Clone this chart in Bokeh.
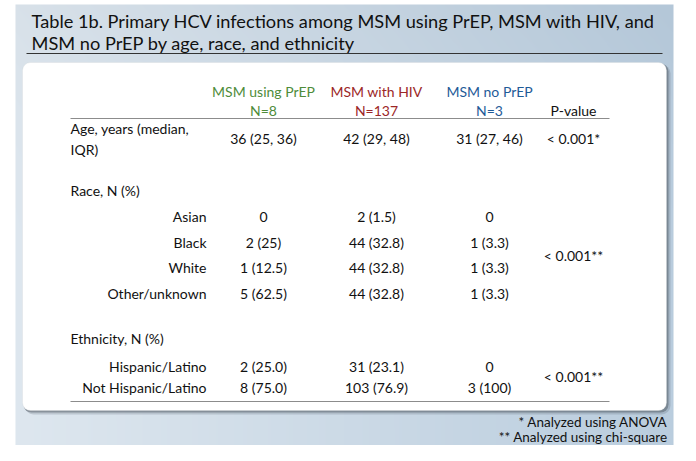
import numpy as np
from bokeh.plotting import figure
from bokeh.models import Range1d, BoxAnnotation
from bokeh.core.properties import value
from bokeh.embed import file_html
from bokeh.resources import INLINE

# ---------------- data ----------------
title_lines = ["Table 1b.  Primary HCV infections among MSM using PrEP, MSM with HIV, and",
               "MSM no PrEP by age, race, and ethnicity"]
groups = ["MSM using PrEP", "MSM with HIV", "MSM no PrEP"]
group_n = ["N=8", "N=137", "N=3"]
group_colors = ["#4e8c3a", "#9c2727", "#1f5b98"]
pvalue_header = "P-value"

age_label = ["Age, years (median,", "IQR)"]
age_values = ["36 (25, 36)", "42 (29, 48)", "31 (27, 46)"]
age_p = "< 0.001*"

race_label = "Race, N (%)"
race_cats = ["Asian", "Black", "White", "Other/unknown"]
race_prep = ["0", "2 (25)", "1 (12.5)", "5 (62.5)"]
race_hiv = ["2 (1.5)", "44 (32.8)", "44 (32.8)", "44 (32.8)"]
race_noprep = ["0", "1 (3.3)", "1 (3.3)", "1 (3.3)"]
race_p = "< 0.001**"

eth_label = "Ethnicity, N (%)"
eth_cats = ["Hispanic/Latino", "Not Hispanic/Latino"]
eth_prep = ["2 (25.0)", "8 (75.0)"]
eth_hiv = ["31 (23.1)", "103 (76.9)"]
eth_noprep = ["0", "3 (100)"]
eth_p = "< 0.001**"

footnotes = ["* Analyzed using ANOVA", "** Analyzed using chi-square"]

# ---------------- layout (page pixel coordinates) ----------------
FONT = "Lato"
FS = "14px"
col_x = [263, 376, 489, 573]
label_x = 70
cat_right = 206

p = figure(width=680, height=445, output_backend="svg", toolbar_location=None,
           x_range=Range1d(0, 680), y_range=Range1d(445, 0),
           min_border=0, background_fill_color="white", border_fill_color="white")
p.axis.visible = False
p.grid.visible = False
p.outline_line_color = None

# gradient background
W, H = 658, 452
img = np.empty((H, W), dtype=np.uint32)
v = img.view(dtype=np.uint8).reshape((H, W, 4))
t = np.linspace(0, 1, W)[None, :]
s = np.linspace(0, 1, H)[:, None]
c0 = np.array([222, 231, 239]); c1 = np.array([186, 205, 222])
for k in range(3):
    v[:, :, k] = (c0[k] + (c1[k] - c0[k]) * (t ** 1.0) - 6 * (1 - s) ** 3).astype(np.uint8)
v[:, :, 3] = 255
bg = p.image_rgba(image=[img], x=15, y=4, dw=W, dh=H)
bg.level = "image"

# panel shadow + panel
p.add_layout(BoxAnnotation(left=24, right=670, top=64, bottom=414, fill_color="#5f6b78",
                           fill_alpha=0.25, line_color=None, border_radius=9, level="underlay"))
p.add_layout(BoxAnnotation(left=23, right=668, top=63, bottom=412, fill_color="#4a525c",
                           fill_alpha=0.45, line_color=None, border_radius=8, level="underlay"))
p.add_layout(BoxAnnotation(left=22, right=666, top=62, bottom=410, fill_color="white",
                           fill_alpha=1, line_color="#d0d4d8", line_width=1, border_radius=8,
                           level="underlay"))

# title
p.text(x=[31, 31], y=[20, 42], text=title_lines, text_font=value(FONT), text_font_size="18.2px",
       text_color="#111111", text_baseline="middle", text_align="left")
p.segment(x0=[26], y0=[53], x1=[662], y1=[53], line_color="#333333", line_width=1)

# headers
p.text(x=col_x[:3], y=[91] * 3, text=groups, text_color=group_colors, text_font=value(FONT),
       text_font_size=FS, text_align="center", text_baseline="middle")
p.text(x=col_x[:3], y=[110] * 3, text=group_n, text_color=group_colors, text_font=value(FONT),
       text_font_size=FS, text_align="center", text_baseline="middle")
p.text(x=[col_x[3]], y=[110], text=[pvalue_header], text_color="#111111", text_font=value(FONT),
       text_font_size=FS, text_align="center", text_baseline="middle")
p.segment(x0=[70, 70], y0=[118, 401], x1=[609, 609], y1=[118, 401], line_color="#8c8c8c", line_width=1)

def txt(xs, ys, texts, align="center", size=FS):
    p.text(x=xs, y=ys, text=texts, text_color="#111111", text_font=value(FONT),
           text_font_size=size, text_align=align, text_baseline="middle")

# age
txt([label_x, label_x], [128, 149], age_label, "left")
txt(col_x[:3], [138] * 3, age_values)
txt([col_x[3]], [138], [age_p])

# race
race_y = [216, 242, 267, 293]
txt([label_x], [190], [race_label], "left")
txt([cat_right] * 4, race_y, race_cats, "right")
txt([col_x[0]] * 4, race_y, race_prep)
txt([col_x[1]] * 4, race_y, race_hiv)
txt([col_x[2]] * 4, race_y, race_noprep)
txt([col_x[3]], [255], [race_p])

# ethnicity
eth_y = [366, 387]
txt([label_x], [338], [eth_label], "left")
txt([cat_right] * 2, eth_y, eth_cats, "right")
txt([col_x[0]] * 2, eth_y, eth_prep)
txt([col_x[1]] * 2, eth_y, eth_hiv)
txt([col_x[2]] * 2, eth_y, eth_noprep)
txt([col_x[3]], [376], [eth_p])

# footnotes
txt([667, 667], [421, 436], footnotes, "right", "13.5px")

open("out.html", "w").write(file_html(p, INLINE))
